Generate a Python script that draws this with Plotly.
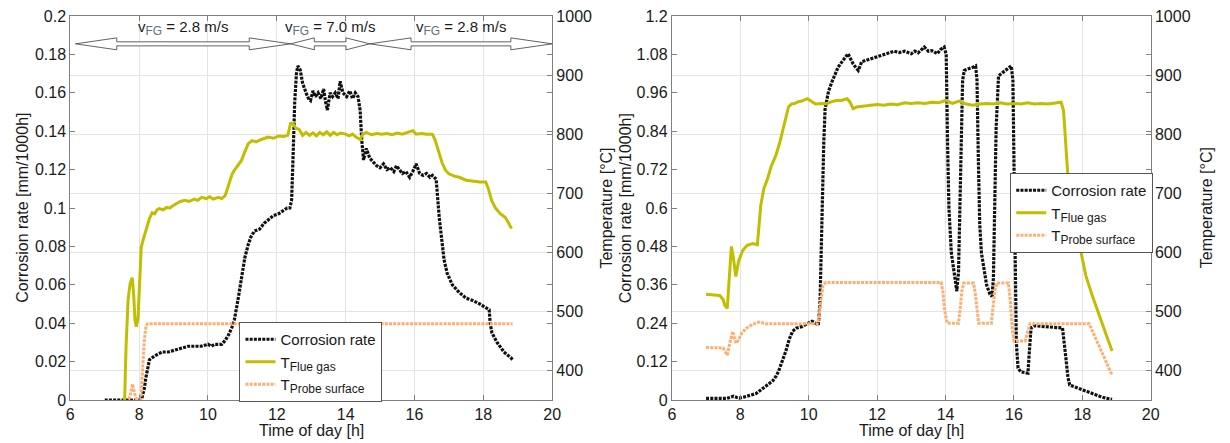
import plotly.graph_objects as go

# ---------------- Left chart data ----------------
L_cr_t = [7.0, 7.5, 8.0, 8.08, 8.15, 8.2, 8.3, 8.45, 8.67, 8.85, 9.05, 9.25, 9.43, 9.6, 9.8, 10.0, 10.1, 10.2,
          10.4, 10.5, 10.6, 10.7, 10.77, 10.87, 10.97, 11.07, 11.17, 11.25, 11.35, 11.5, 11.63, 11.75, 11.9,
          12.05, 12.2, 12.3, 12.38, 12.43, 12.47, 12.52, 12.57, 12.61, 12.68, 12.75, 12.85, 12.92, 12.98,
          13.05, 13.12, 13.2, 13.28, 13.36, 13.42, 13.47, 13.55, 13.62, 13.7, 13.78, 13.84, 13.92, 14.03,
          14.12, 14.2, 14.28, 14.36, 14.42, 14.47, 14.52, 14.6, 14.7, 14.8, 14.9, 15.0, 15.1, 15.2, 15.3,
          15.4, 15.48, 15.56, 15.65, 15.75, 15.86, 15.95, 16.05, 16.15, 16.25, 16.35, 16.45, 16.52, 16.63,
          16.72, 16.8, 16.86, 16.95, 17.1, 17.2, 17.3, 17.5, 17.67, 17.9, 18.1, 18.17, 18.2, 18.25, 18.4,
          18.6, 18.8, 18.85]
L_cr_v = [0, 0, 0, 0.001, 0.006, 0.012, 0.021, 0.023, 0.025, 0.025, 0.026, 0.027, 0.028, 0.028, 0.028, 0.029,
          0.028, 0.029, 0.029, 0.031, 0.034, 0.038, 0.042, 0.052, 0.064, 0.074, 0.081, 0.085, 0.088, 0.089,
          0.092, 0.094, 0.096, 0.097, 0.099, 0.1, 0.1, 0.104, 0.125, 0.155, 0.17, 0.174, 0.172, 0.165, 0.16,
          0.157, 0.156, 0.161, 0.158, 0.16, 0.157, 0.162, 0.155, 0.151, 0.16, 0.158, 0.16, 0.157, 0.166,
          0.16, 0.158, 0.161, 0.157, 0.16, 0.158, 0.151, 0.135, 0.125, 0.131, 0.126, 0.124, 0.122, 0.121,
          0.123, 0.12, 0.121, 0.119, 0.122, 0.12, 0.118, 0.119, 0.116, 0.119, 0.123, 0.118, 0.117, 0.118,
          0.116, 0.117, 0.115, 0.095, 0.082, 0.073, 0.066, 0.06, 0.058, 0.056, 0.053, 0.052, 0.05, 0.048,
          0.047, 0.04, 0.035, 0.03, 0.025, 0.022, 0.021]

L_fg_t = [7.57, 7.62, 7.68, 7.74, 7.8, 7.84, 7.88, 7.92, 7.97, 8.02, 8.06, 8.12, 8.2, 8.3, 8.38, 8.45, 8.52,
          8.58, 8.7, 8.8, 8.9, 8.96, 9.1, 9.2, 9.33, 9.45, 9.6, 9.7, 9.82, 9.95, 10.05, 10.15, 10.3, 10.4, 10.5,
          10.6, 10.7, 10.77, 10.87, 10.97, 11.07, 11.17, 11.28, 11.4, 11.55, 11.75, 11.9, 12.05, 12.2, 12.32,
          12.4, 12.47, 12.55, 12.65, 12.75, 12.85, 12.95, 13.05, 13.15, 13.25, 13.35, 13.45, 13.55, 13.65,
          13.75, 13.85, 14.0, 14.1, 14.2, 14.3, 14.42, 14.5, 14.6, 14.75, 14.9, 15.05, 15.2, 15.35, 15.5,
          15.65, 15.8, 15.95, 16.05, 16.2, 16.35, 16.52, 16.6, 16.7, 16.8, 16.9, 17.0, 17.15, 17.3, 17.5,
          17.7, 17.9, 18.07, 18.15, 18.24, 18.35, 18.5, 18.64, 18.75, 18.82]
L_fg_T = [330, 440, 520, 548, 557, 530, 485, 474, 490, 570, 608, 622, 637, 657, 667, 665, 672, 674, 672, 676,
          675, 678, 683, 686, 688, 686, 690, 688, 693, 691, 694, 690, 693, 691, 696, 715, 732, 739, 747, 755,
          770, 784, 789, 787, 791, 795, 793, 797, 796, 798, 818, 818, 810, 808, 798, 803, 798, 802, 797, 803,
          799, 804, 798, 803, 799, 802, 800, 797, 800, 795, 791, 800, 803, 799, 801, 800, 801, 799, 802, 800,
          803, 806, 800, 801, 800, 800, 790, 770, 752, 739, 733, 729, 727, 722, 720, 719, 719, 707, 688, 675,
          665, 659, 648, 640]

L_ps_t = [7.7, 7.76, 7.81, 7.86, 7.92, 8.05, 8.1, 8.15, 8.2, 8.25, 10.0, 12.0, 14.0, 16.0, 18.85]
L_ps_T = [351, 362, 377, 362, 352, 352, 400, 450, 476, 479, 479, 479, 479, 479, 479]

# ---------------- Right chart data ----------------
R_cr_t = [7.0, 7.3, 7.6, 7.7, 7.8, 7.9, 7.97, 8.1, 8.3, 8.46, 8.56, 8.66, 8.8, 8.95, 9.05, 9.12, 9.22, 9.33,
          9.43, 9.53, 9.65, 9.82, 9.95, 10.1, 10.2, 10.28, 10.33, 10.37, 10.4, 10.44, 10.48, 10.58, 10.68,
          10.78, 10.86, 10.96, 11.05, 11.15, 11.3, 11.45, 11.55, 11.7, 11.84, 12.0, 12.15, 12.3, 12.5, 12.65,
          12.8, 13.0, 13.1, 13.2, 13.3, 13.38, 13.5, 13.6, 13.76, 13.85, 13.96, 14.02, 14.06, 14.1, 14.17,
          14.24, 14.3, 14.33, 14.38, 14.42, 14.46, 14.5, 14.55, 14.7, 14.8, 14.88, 14.92, 14.96, 15.0, 15.05,
          15.2, 15.3, 15.36, 15.4, 15.44, 15.48, 15.55, 15.7, 15.85, 15.92, 15.97, 16.0, 16.03, 16.07, 16.12,
          16.2, 16.35, 16.41, 16.45, 16.5, 16.6, 16.8, 17.0, 17.2, 17.42, 17.5, 17.58, 17.63, 17.8, 18.0,
          18.2, 18.5, 18.7, 18.87]
R_cr_v = [0.005, 0.005, 0.005, 0.008, 0.012, 0.008, 0.006, 0.009, 0.014, 0.02, 0.028, 0.037, 0.048, 0.06,
          0.075, 0.09, 0.12, 0.152, 0.19, 0.215, 0.225, 0.23, 0.238, 0.246, 0.24, 0.234, 0.3, 0.5, 0.63, 0.8,
          0.91, 0.965, 0.994, 1.02, 1.04, 1.055, 1.068, 1.082, 1.05, 1.03, 1.057, 1.062, 1.066, 1.072, 1.076,
          1.082, 1.09, 1.086, 1.09, 1.082, 1.09, 1.085, 1.095, 1.103, 1.09, 1.092, 1.082, 1.095, 1.103, 1.08,
          0.8, 0.6, 0.46, 0.41, 0.36, 0.34, 0.4, 0.6, 0.85, 1.0, 1.03, 1.035, 1.04, 1.044, 1.0, 0.75, 0.55,
          0.46, 0.36, 0.33, 0.324, 0.38, 0.6, 0.85, 1.013, 1.025, 1.04, 1.044, 1.0, 0.7, 0.4, 0.18, 0.1,
          0.088, 0.085, 0.084, 0.15, 0.225, 0.232, 0.23, 0.228, 0.226, 0.225, 0.15, 0.07, 0.047, 0.04,
          0.031, 0.022, 0.012, 0.005, 0.002]

R_fg_t = [7.0, 7.2, 7.4, 7.5, 7.55, 7.62, 7.68, 7.74, 7.8, 7.87, 7.95, 8.07, 8.2, 8.37, 8.5, 8.55, 8.6, 8.69,
          8.8, 8.9, 9.04, 9.15, 9.25, 9.35, 9.41, 9.5, 9.6, 9.7, 9.8, 9.96, 10.05, 10.2, 10.4, 10.5, 10.68,
          10.8, 10.95, 11.12, 11.2, 11.3, 11.4, 11.6, 11.84, 12.0, 12.2, 12.4, 12.6, 12.8, 13.0, 13.2, 13.4,
          13.6, 13.8, 14.0, 14.2, 14.4, 14.6, 14.8, 15.0, 15.2, 15.4, 15.6, 15.8, 16.0, 16.2, 16.4, 16.6,
          16.8, 17.0, 17.2, 17.38, 17.45, 17.5, 17.57, 17.7, 17.8, 17.92, 18.0, 18.1, 18.3, 18.5, 18.7, 18.87]
R_fg_T = [529, 528, 527, 520, 510, 505, 560, 610, 590, 559, 585, 603, 612, 615, 613, 650, 680, 708, 725, 745,
          764, 785, 808, 830, 846, 851, 852, 855, 856, 860, 857, 851, 852, 851, 855, 857, 857, 860, 855, 843,
          846, 847, 848, 850, 849, 851, 850, 853, 852, 853, 852, 854, 853, 857, 852, 856, 851, 849, 851, 852,
          851, 853, 851, 852, 851, 853, 851, 852, 851, 852, 854, 840, 790, 736, 680, 640, 612, 590, 561, 525,
          494, 460, 433]

R_ps_t = [7.0, 7.3, 7.5, 7.56, 7.62, 7.7, 7.78, 7.83, 7.88, 7.95, 8.05, 8.17, 8.35, 8.55, 8.65, 8.75, 10.25,
          10.3, 10.36, 10.42, 10.5, 13.87, 13.92, 13.98, 14.05, 14.38, 14.43, 14.48, 14.53, 14.82, 14.87, 14.92,
          14.97, 15.34, 15.39, 15.44, 15.5, 15.84, 15.89, 15.95, 16.0, 16.33, 16.4, 16.47, 18.2, 18.87]
R_ps_T = [439, 438, 438, 432, 426, 448, 466, 455, 446, 452, 464, 471, 478, 482, 480, 479, 479, 490, 520, 544,
          549, 549, 535, 500, 480, 480, 505, 535, 548, 548, 530, 500, 480, 480, 505, 535, 548, 548, 520, 470,
          450, 450, 465, 479, 479, 392]

# ---------------- Axis ticks / labels ----------------
x_ticks = [6, 8, 10, 12, 14, 16, 18, 20]
L_y_ticks = [0, 0.02, 0.04, 0.06, 0.08, 0.1, 0.12, 0.14, 0.16, 0.18, 0.2]
L_y_text = ["0", "0.02", "0.04", "0.06", "0.08", "0.1", "0.12", "0.14", "0.16", "0.18", "0.2"]
R_y_ticks = [0, 0.12, 0.24, 0.36, 0.48, 0.6, 0.72, 0.84, 0.96, 1.08, 1.2]
R_y_text = ["0", "0.12", "0.24", "0.36", "0.48", "0.6", "0.72", "0.84", "0.96", "1.08", "1.2"]
T_ticks = [400, 500, 600, 700, 800, 900, 1000]

# flue gas velocity phases (left chart)
phase_bounds = [6.15, 12.4, 14.7, 20.0]
phase_speeds = ["2.8", "7.0", "2.8"]

SUB = "<sub><span style='font-size:12px'>{}</span></sub>"
names = ["Corrosion rate", "T" + SUB.format("Flue gas"), "T" + SUB.format("Probe surface")]

FONT = "Liberation Sans, Arial, sans-serif"
TXT = "#1a1a1a"
AX = "#808080"
GRID = "#e4e4e4"
C_CR = "#111111"
C_FG = "#BFBF00"
C_PS = "#FFAE70"

fig = go.Figure()

def add_set(xa, ya_l, ya_r, cr_t, cr_v, fg_t, fg_T, ps_t, ps_T, legend):
    fig.add_trace(go.Scatter(x=cr_t, y=cr_v, xaxis=xa, yaxis=ya_l, mode="lines", name=names[0],
                             line=dict(color=C_CR, width=3.2, dash="3px,1.2px"), legend=legend))
    fig.add_trace(go.Scatter(x=fg_t, y=fg_T, xaxis=xa, yaxis=ya_r, mode="lines", name=names[1],
                             line=dict(color=C_FG, width=3), legend=legend))
    fig.add_trace(go.Scatter(x=ps_t, y=ps_T, xaxis=xa, yaxis=ya_r, mode="lines", name=names[2],
                             line=dict(color=C_PS, width=3, dash="3px,1.2px"), legend=legend))

add_set("x", "y", "y2", L_cr_t, L_cr_v, L_fg_t, L_fg_T, L_ps_t, L_ps_T, "legend")
add_set("x2", "y3", "y4", R_cr_t, R_cr_v, R_fg_t, R_fg_T, R_ps_t, R_ps_T, "legend2")

W = 1230
dL = [67 / W, 554 / W]
dR = [675 / W, 1159 / W]

def xax(domain, anchor):
    return dict(domain=domain, anchor=anchor, range=[6, 20], tickvals=x_ticks, ticks="inside", ticklen=5,
                tickcolor=AX, showline=True, linecolor=AX, linewidth=1, mirror="ticks", showgrid=True,
                gridcolor=GRID, gridwidth=1, zeroline=False, tickfont=dict(size=16, color=TXT, family=FONT))

def yax_left(anchor, rng, tv, tt):
    return dict(anchor=anchor, domain=[0, 1], range=rng, tickvals=tv, ticktext=tt, ticks="inside", ticklen=5,
                tickcolor=AX, showline=True, linecolor=AX, linewidth=1, mirror="ticks", showgrid=False,
                zeroline=False, tickfont=dict(size=16, color=TXT, family=FONT))

def yax_right(anchor, over):
    return dict(anchor=anchor, overlaying=over, side="right", range=[350, 1000], tickvals=T_ticks,
                ticks="inside", ticklen=5, tickcolor=AX, showline=True, linecolor=AX, linewidth=1,
                showgrid=True, gridcolor=GRID, gridwidth=1, zeroline=False,
                tickfont=dict(size=16, color=TXT, family=FONT))

legend_style = dict(bgcolor="white", bordercolor="#555555", borderwidth=1, font=dict(size=15, color=TXT, family=FONT),
                    xanchor="left", yanchor="top", tracegroupgap=0, itemwidth=30)

fig.update_layout(
    width=1230, height=443,
    margin=dict(l=0, r=0, t=16, b=43),
    paper_bgcolor="white", plot_bgcolor="white",
    font=dict(family=FONT, color=TXT, size=16),
    xaxis=xax(dL, "y"), yaxis=yax_left("x", [0, 0.2], L_y_ticks, L_y_text), yaxis2=yax_right("x", "y"),
    xaxis2=xax(dR, "y3"), yaxis3=yax_left("x2", [0, 1.2], R_y_ticks, R_y_text), yaxis4=yax_right("x2", "y3"),
    legend=dict(x=238 / W, y=(400 - 322) / 384, **legend_style),
    legend2=dict(x=1017 / W, y=(400 - 173) / 384, **legend_style),
    showlegend=True,
)

# velocity arrows
yc, hw, sw = 0.1855, 0.0031, 0.00105
shapes = []
annos = []
for i, sp in enumerate(phase_speeds):
    x0, x1 = phase_bounds[i], phase_bounds[i + 1]
    hl = min(1.2, 0.3 * (x1 - x0))
    p = (f"M{x0},{yc} L{x0+hl},{yc+hw} L{x0+hl},{yc+sw} L{x1-hl},{yc+sw} L{x1-hl},{yc+hw} L{x1},{yc} "
         f"L{x1-hl},{yc-hw} L{x1-hl},{yc-sw} L{x0+hl},{yc-sw} L{x0+hl},{yc-hw} Z")
    shapes.append(dict(type="path", path=p, xref="x", yref="y", fillcolor="white",
                       line=dict(color="#3a3a3a", width=0.8), layer="above"))
    annos.append(dict(x=(x0 + x1) / 2, y=0.194, xref="x", yref="y", showarrow=False,
                      text=f"v<sub><span style='color:#5f6f80;font-size:12px'>FG</span></sub> = {sp} m/s",
                      font=dict(size=15, color=TXT, family=FONT), xanchor="center", yanchor="middle"))

# axis titles
def ytitle(xpx, text):
    return dict(x=xpx / W, y=0.5, xref="paper", yref="paper", text=text, showarrow=False, textangle=-90,
                font=dict(size=16, color=TXT, family=FONT), xanchor="center", yanchor="middle")

annos += [
    ytitle(18, "Corrosion rate [mm/1000h]"),
    ytitle(608, "Temperature [°C]"),
    ytitle(628, "Corrosion rate [mm/1000h]"),
    ytitle(1215, "Temperature [°C]"),
    dict(x=310.5 / W, y=(400 - 430) / 384, xref="paper", yref="paper", text="Time of day [h]", showarrow=False,
         font=dict(size=16, color=TXT, family=FONT), xanchor="center", yanchor="middle"),
    dict(x=917 / W, y=(400 - 430) / 384, xref="paper", yref="paper", text="Time of day [h]", showarrow=False,
         font=dict(size=16, color=TXT, family=FONT), xanchor="center", yanchor="middle"),
]

fig.update_layout(shapes=shapes, annotations=annos)
fig.write_html("out.html")
